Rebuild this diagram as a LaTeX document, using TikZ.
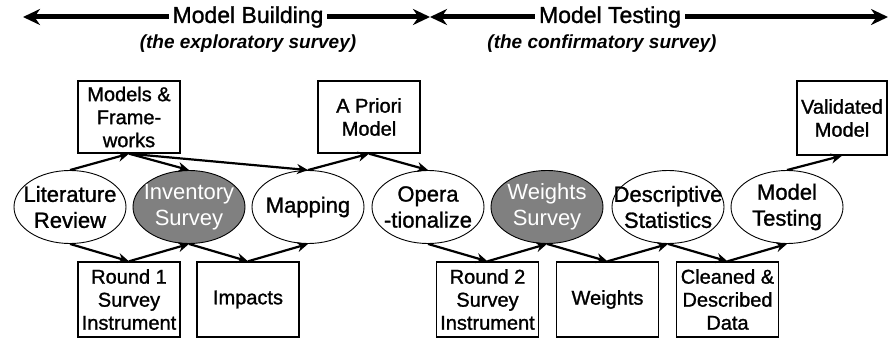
\documentclass[tikz,border=0pt]{standalone}
\usepackage{fontspec}
\setmainfont{Liberation Sans}
\newfontfamily\heavysans{Liberation Sans}[FakeBold=1.2]
\usetikzlibrary{shapes.geometric,arrows.meta}
\tikzset{
  stage/.style={draw, ellipse, line width=0.9pt, minimum width=112pt, minimum height=73pt, inner sep=0pt},
  survey/.style={stage, fill=gray},
  stxt/.style={align=center, font=\heavysans\fontsize{22}{26}\selectfont},
  boxed/.style={draw, line width=1.4pt, minimum width=102pt, align=center, inner sep=0pt, font=\heavysans\fontsize{20}{23}\selectfont},
  flow/.style={line width=2.2pt, -{Stealth[length=11pt,width=10pt]}},
  phase/.style={line width=5pt, {Stealth[length=17pt,width=16pt]}-{Stealth[length=17pt,width=16pt]}},
  phasetxt/.style={fill=white, inner xsep=4pt, font=\heavysans\fontsize{23}{27}\selectfont},
  subtxt/.style={font=\bfseries\itshape\fontsize{19}{23}\selectfont}
}
\begin{document}
\begin{tikzpicture}[x=1pt,y=-1pt]
  \useasboundingbox (0,0) rectangle (888,339);
  % phases
  \coordinate (bl) at (23,17);
  \coordinate (bm) at (430,17);
  \coordinate (tr) at (888,17);
  \draw[phase] (bl) -- (bm);
  \draw[phase] (bm) -- (tr);
  \node[phasetxt] (build) at (248,17) {Model Building};
  \node[phasetxt] (test) at (610,17) {Model Testing};
  \node[subtxt] (buildsub) at (248,44) {(the exploratory survey)};
  \node[subtxt] (testsub) at (602,44) {(the confirmatory survey)};
  % activities
  \node[stage] (lit) at (70,207) {};
  \node[stxt] at (lit) {Literature\\Review};
  \node[survey] (inv) at (189,207) {};
  \node[stxt, text=white, font=\fontsize{22}{26}\selectfont] at (inv) {Inventory\\Survey};
  \node[stage] (map) at (308,207) {};
  \node[stxt] at (map) {Mapping};
  \node[stage] (ops) at (428,207) {};
  \node[stxt] at (ops) {Opera\\-tionalize};
  \node[survey] (wts) at (547,207) {};
  \node[stxt, text=white, font=\fontsize{22}{26}\selectfont] at (wts) {Weights\\Survey};
  \node[stage] (des) at (668,207) {};
  \node[stxt] at (des) {Descriptive\\Statistics};
  \node[stage] (mtt) at (787,207) {};
  \node[stxt] at (mtt) {Model\\Testing};
  % products
  \node[boxed, minimum height=72pt] (mf) at (129,117) {Models \&\\Frame-\\works};
  \node[boxed, minimum height=72pt] (apm) at (369,117) {A Priori\\Model};
  \node[boxed, minimum height=74pt, minimum width=90pt] (vm) at (842,118) {Validated\\Model};
  \node[boxed, minimum height=75pt] (rs1) at (129,299.5) {Round 1\\Survey\\Instrument};
  \node[boxed, minimum height=75pt] (imp) at (248,299.5) {Impacts};
  \node[boxed, minimum height=75pt] (rs2) at (487.5,299.5) {Round 2\\Survey\\Instrument};
  \node[boxed, minimum height=75pt] (wgt) at (607.5,299.5) {Weights};
  \node[boxed, minimum height=75pt] (cdd) at (727.5,299.5) {Cleaned \&\\Described\\Data};
  % flows
  \draw[flow] (lit.north) -- (mf.south);
  \draw[flow] (mf.south) -- (inv.north);
  \draw[flow] (mf.south) -- (map.north);
  \draw[flow] (map.north) -- (apm.south);
  \draw[flow] (apm.south) -- (ops.north);
  \draw[flow] (mtt.north) -- (vm.south);
  \draw[flow] (lit.south) -- (rs1.north);
  \draw[flow] (rs1.north) -- (inv.south);
  \draw[flow] (inv.south) -- (imp.north);
  \draw[flow] (imp.north) -- (map.south);
  \draw[flow] (ops.south) -- (rs2.north);
  \draw[flow] (rs2.north) -- (wts.south);
  \draw[flow] (wts.south) -- (wgt.north);
  \draw[flow] (wgt.north) -- (des.south);
  \draw[flow] (des.south) -- (cdd.north);
  \draw[flow] (cdd.north) -- (mtt.south);
\end{tikzpicture}
\end{document}
